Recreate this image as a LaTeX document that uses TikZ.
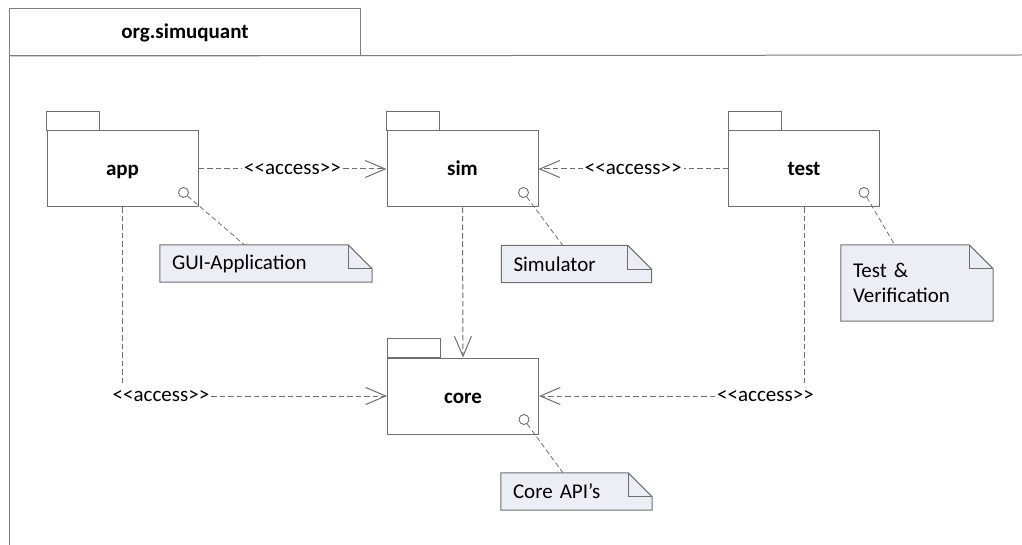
\documentclass[tikz,border=0pt]{standalone}
\usepackage{fontspec}
\setmainfont{Carlito}
\usetikzlibrary{arrows.meta,calc,backgrounds}
\definecolor{lc}{RGB}{110,110,110}
\definecolor{fc}{RGB}{125,125,125}
\definecolor{nf}{RGB}{235,239,245}
\newcommand{\acc}{<\kern0pt<access>\kern0pt>}
\newcommand{\notefold}[1]{%
  \begin{scope}[on background layer]
    \draw[notedraw] (#1.south west) -- (#1.north west) -- ($(#1.north east)+(-24,0)$) -- ($(#1.north east)+(0,24)$) -- (#1.south east) -- cycle;
    \draw[notedraw,fill=none] ($(#1.north east)+(-24,0)$) -- ++(0,24) -- ++(24,0);
  \end{scope}}
\begin{document}
\begin{tikzpicture}[x=1pt,y=-1pt,
  font=\fontsize{21}{25}\selectfont,
  frame/.style={draw=fc,line width=1pt},
  pkg/.style={draw=lc,line width=1pt,minimum width=151pt,minimum height=76pt,inner sep=0pt,text height=18pt,text depth=4pt,font=\fontsize{21}{25}\selectfont\bfseries},
  tabbox/.style={draw=lc,line width=1pt},
  port/.style={circle,draw=lc,line width=0.9pt,minimum size=10pt,inner sep=0pt},
  note/.style={inner xsep=12pt,inner ysep=0pt,align=left},
  notedraw/.style={draw=lc,line width=1pt,fill=nf},
  dep/.style={draw=lc,line width=1pt,dash pattern=on 5.5pt off 3pt},
  tip/.style={-{Straight Barb[length=20pt,width=17pt,line width=1pt]}},
  lbl/.style={inner xsep=2pt,inner ysep=3pt,text height=15pt,text depth=4pt},
  link/.style={draw=lc,line width=0.8pt,dash pattern=on 5pt off 3pt}
]
\useasboundingbox (0,0) rectangle (1022,545);
% outer package frame
\node[frame,anchor=north west,minimum width=351pt,minimum height=47pt,inner sep=0pt,text height=18pt,text depth=4pt,font=\fontsize{21}{25}\selectfont\bfseries] (top) at (9,8) {org.simuquant};
\draw[frame] (top.north west) -- (9,545);
\draw[frame] (top.south west) -- (1022,55);

% packages
\node[pkg] (app) at (122.5,169) {app};
\node[pkg] (sim) at (462.5,169) {sim};
\node[pkg] (test) at (804,169) {test};
\node[pkg] (core) at (463,396) {core};
\foreach \p in {app,sim,test,core}{
  \draw[tabbox] (\p.north west) rectangle ++(53,-19);
}
\node[port] (appc) at ($(app.south east)+(-15,-15)$) {};
\node[port] (simc) at ($(sim.south east)+(-15,-15)$) {};
\node[port] (testc) at ($(test.south east)+(-16,-15)$) {};
\node[port] (corec) at ($(core.south east)+(-15,-15)$) {};

% notes
\node[note,text width=188pt,minimum height=37pt] (gui) at (266,263.5) {GUI-Application};
\node[note,text width=126pt,minimum height=37pt] (simn) at (576.5,264) {Simulator};
\node[note,text width=128pt,minimum height=76pt] (testn) at (917,283) {Test \&\\Verification};
\node[note,text width=127pt,minimum height=37pt] (coren) at (576.5,491.5) {Core API’s};
\notefold{gui}
\notefold{simn}
\notefold{testn}
\notefold{coren}
\draw[link] (appc) -- (gui);
\draw[link] (simc) -- (simn);
\draw[link] (testc) -- (testn);
\draw[link] (corec) -- (coren);

% dependencies
\draw[dep,tip] (app.east) -- node[lbl,fill=white] {\acc} (sim.west);
\draw[dep,tip] (test.west) -- node[lbl,fill=white] {\acc} (sim.east);
\draw[dep,tip] (sim.south) -- (core.north);
\node[lbl] (l1) at (161,396) {\acc};
\node[lbl] (l2) at (765.5,396) {\acc};
\draw[dep] (app.south) -- (app.south |- l1.north);
\draw[dep,tip] (l1.east) -- (core.west);
\draw[dep] (test.south) -- (test.south |- l2.north);
\draw[dep,tip] (l2.west) -- (core.east);
\end{tikzpicture}
\end{document}
